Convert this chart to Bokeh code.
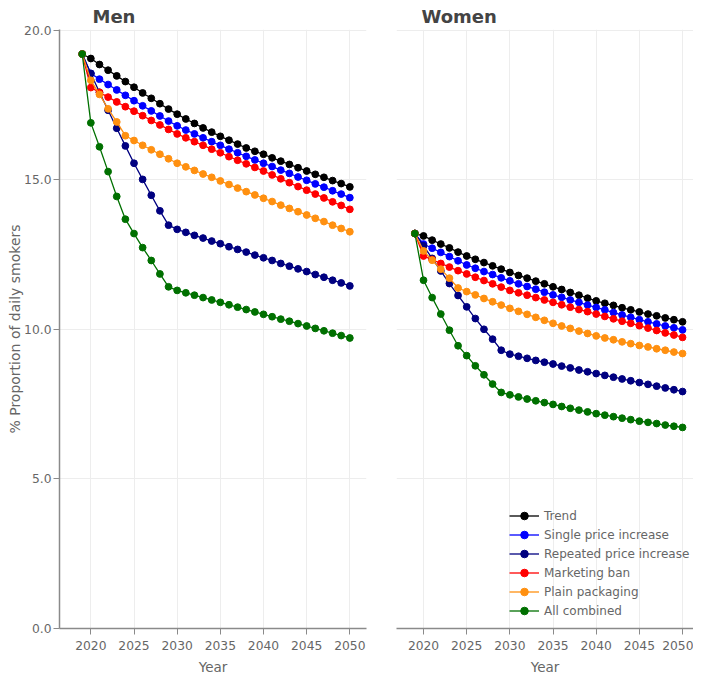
from bokeh.plotting import figure
from bokeh.layouts import row
from bokeh.models import Range1d, NumeralTickFormatter, FixedTicker, Legend, LegendItem
from bokeh.embed import file_html
from bokeh.resources import INLINE

years = list(range(2019, 2051))

series_names = ["Trend", "Single price increase", "Repeated price increase",
                "Marketing ban", "Plain packaging", "All combined"]
series_colors = ["#000000", "#0000ff", "#000080", "#ff0000", "#ff9010", "#007000"]

men_trend = [19.2, 19.05, 18.85, 18.66, 18.47, 18.28, 18.09, 17.9, 17.72, 17.54, 17.36, 17.19,
             17.03, 16.88, 16.73, 16.59, 16.45, 16.32, 16.19, 16.06, 15.95, 15.85,
             15.73, 15.62, 15.51, 15.4, 15.29, 15.18, 15.08, 14.97, 14.87, 14.76]
men_single = [19.2, 18.55, 18.36, 18.18, 18.0, 17.82, 17.64, 17.47, 17.3, 17.13, 16.96, 16.8,
              16.66, 16.53, 16.4, 16.27, 16.15, 16.02, 15.9, 15.78, 15.66, 15.55,
              15.44, 15.32, 15.21, 15.09, 14.98, 14.86, 14.75, 14.63, 14.52, 14.40]
men_repeated = [19.2, 18.55, 17.92, 17.32, 16.72, 16.13, 15.55, 15.01, 14.48, 13.96, 13.48, 13.34,
                13.24, 13.14, 13.05, 12.95, 12.86, 12.76, 12.67, 12.58, 12.48, 12.39,
                12.3, 12.2, 12.11, 12.02, 11.93, 11.83, 11.74, 11.64, 11.55, 11.45]
men_marketing = [19.2, 18.08, 17.92, 17.76, 17.6, 17.44, 17.29, 17.14, 16.98, 16.83, 16.68, 16.53,
                 16.4, 16.27, 16.15, 16.02, 15.9, 15.77, 15.65, 15.53, 15.41, 15.29,
                 15.16, 15.03, 14.9, 14.77, 14.65, 14.52, 14.39, 14.26, 14.14, 14.01]
men_plain = [19.2, 18.32, 17.85, 17.37, 16.93, 16.47, 16.31, 16.15, 16.0, 15.85, 15.7, 15.55,
             15.43, 15.31, 15.19, 15.08, 14.96, 14.84, 14.72, 14.6, 14.49, 14.38,
             14.27, 14.15, 14.04, 13.93, 13.82, 13.71, 13.6, 13.48, 13.37, 13.26]
men_combined = [19.2, 16.9, 16.1, 15.27, 14.44, 13.68, 13.2, 12.73, 12.3, 11.85, 11.42, 11.3,
                11.22, 11.14, 11.06, 10.98, 10.9, 10.82, 10.74, 10.66, 10.58, 10.5,
                10.42, 10.34, 10.27, 10.19, 10.11, 10.03, 9.95, 9.87, 9.79, 9.71]

women_trend = [13.2, 13.12, 12.98, 12.85, 12.72, 12.58, 12.45, 12.34, 12.23, 12.12, 12.01, 11.9,
               11.8, 11.71, 11.61, 11.52, 11.42, 11.33, 11.23, 11.14, 11.04, 10.95,
               10.87, 10.8, 10.72, 10.65, 10.58, 10.51, 10.45, 10.38, 10.32, 10.25]
women_single = [13.2, 12.85, 12.71, 12.57, 12.43, 12.29, 12.15, 12.04, 11.93, 11.83, 11.72, 11.62,
                11.52, 11.43, 11.34, 11.24, 11.15, 11.07, 10.98, 10.9, 10.81, 10.73,
                10.65, 10.56, 10.48, 10.4, 10.32, 10.25, 10.18, 10.11, 10.05, 9.98]
women_repeated = [13.2, 12.79, 12.37, 11.95, 11.53, 11.13, 10.75, 10.36, 10.0, 9.67, 9.3, 9.17,
                  9.1, 9.03, 8.96, 8.9, 8.84, 8.77, 8.71, 8.64, 8.58, 8.52,
                  8.46, 8.4, 8.34, 8.28, 8.22, 8.16, 8.1, 8.04, 7.98, 7.92]
women_marketing = [13.2, 12.45, 12.33, 12.2, 12.08, 11.96, 11.85, 11.74, 11.63, 11.52, 11.41, 11.3,
                   11.22, 11.14, 11.06, 10.98, 10.9, 10.82, 10.74, 10.66, 10.59, 10.51,
                   10.43, 10.35, 10.27, 10.2, 10.12, 10.04, 9.96, 9.88, 9.81, 9.73]
women_plain = [13.2, 12.62, 12.31, 12.01, 11.71, 11.38, 11.26, 11.15, 11.03, 10.92, 10.81, 10.7,
               10.6, 10.5, 10.4, 10.3, 10.2, 10.11, 10.03, 9.94, 9.86, 9.78,
               9.71, 9.65, 9.58, 9.52, 9.46, 9.41, 9.35, 9.3, 9.24, 9.19]
women_combined = [13.2, 11.64, 11.06, 10.51, 9.97, 9.45, 9.12, 8.78, 8.48, 8.17, 7.89, 7.81,
                  7.74, 7.67, 7.61, 7.55, 7.49, 7.42, 7.36, 7.3, 7.24, 7.18,
                  7.13, 7.08, 7.03, 6.98, 6.93, 6.89, 6.85, 6.8, 6.76, 6.72]

men_data = [men_trend, men_single, men_repeated, men_marketing, men_plain, men_combined]
women_data = [women_trend, women_single, women_repeated, women_marketing, women_plain, women_combined]

x_ticks = [2020, 2025, 2030, 2035, 2040, 2045, 2050]
y_ticks = [0, 5, 10, 15, 20]

FONT = "DejaVu Sans"
AXIS_COLOR = "#8a8a8a"
TEXT_COLOR = "#666666"
GRID_COLOR = "#ededed"


def make_panel(title, data, frame_w, x_start, x_end, left_border, right_border, show_y, title_offset):
    p = figure(frame_width=frame_w, frame_height=599, output_backend="svg", toolbar_location=None,
               x_range=Range1d(x_start, x_end), y_range=Range1d(0, 20.02),
               min_border_left=left_border, min_border_right=right_border,
               min_border_top=21, min_border_bottom=47)
    p.outline_line_color = None
    p.title.text = title
    p.title.text_font = FONT
    p.title.text_font_size = "18px"
    p.title.text_font_style = "bold"
    p.title.text_color = "#444444"
    p.title.offset = title_offset
    p.title.standoff = 6

    p.xaxis.ticker = FixedTicker(ticks=x_ticks)
    p.yaxis.ticker = FixedTicker(ticks=y_ticks)
    p.yaxis.formatter = NumeralTickFormatter(format="0.0")
    for ax in (p.xaxis, p.yaxis):
        ax.axis_line_color = AXIS_COLOR
        ax.axis_line_width = 1.5
        ax.major_tick_line_color = AXIS_COLOR
        ax.major_tick_out = 6
        ax.major_tick_in = 0
        ax.minor_tick_line_color = None
        ax.major_label_text_font = FONT
        ax.major_label_text_font_size = "12.3px"
        ax.major_label_text_color = TEXT_COLOR
        ax.axis_label_text_font = FONT
        ax.axis_label_text_font_size = "13.5px"
        ax.axis_label_text_font_style = "normal"
        ax.axis_label_text_color = TEXT_COLOR
    p.xaxis.axis_label = "Year"
    p.xaxis.axis_label_standoff = 6
    p.xaxis.major_label_standoff = 6
    p.yaxis.axis_label = "% Proportion of daily smokers"
    p.yaxis.axis_label_text_font_size = "14px"
    p.yaxis.axis_label_standoff = -2
    p.yaxis.major_label_standoff = 2
    if not show_y:
        p.yaxis.visible = False

    p.xgrid.grid_line_color = GRID_COLOR
    p.ygrid.grid_line_color = GRID_COLOR

    items = []
    for name, color, vals in zip(series_names, series_colors, data):
        ln = p.line(years, vals, line_color=color, line_width=1.3)
        sc = p.scatter(years, vals, size=6.8, fill_color=color, line_color=color)
        items.append(LegendItem(label=name, renderers=[ln, sc]))
    return p, items


men, _ = make_panel("Men", men_data, 307, 2016.37, 2051.93, 59, 8, True, 33)
women, items = make_panel("Women", women_data, 297, 2016.87, 2051.27, 22, 0, False, 25)

legend = Legend(items=items, location=(113, 8))
legend.border_line_color = None
legend.background_fill_alpha = 0
legend.padding = 0
legend.margin = 0
legend.spacing = 0
legend.glyph_width = 30
legend.glyph_height = 19
legend.label_height = 19
legend.label_standoff = 5
legend.label_text_font = FONT
legend.label_text_font_size = "12px"
legend.label_text_color = TEXT_COLOR
women.add_layout(legend)

layout = row(men, women)
open("out.html", "w").write(file_html(layout, INLINE))
